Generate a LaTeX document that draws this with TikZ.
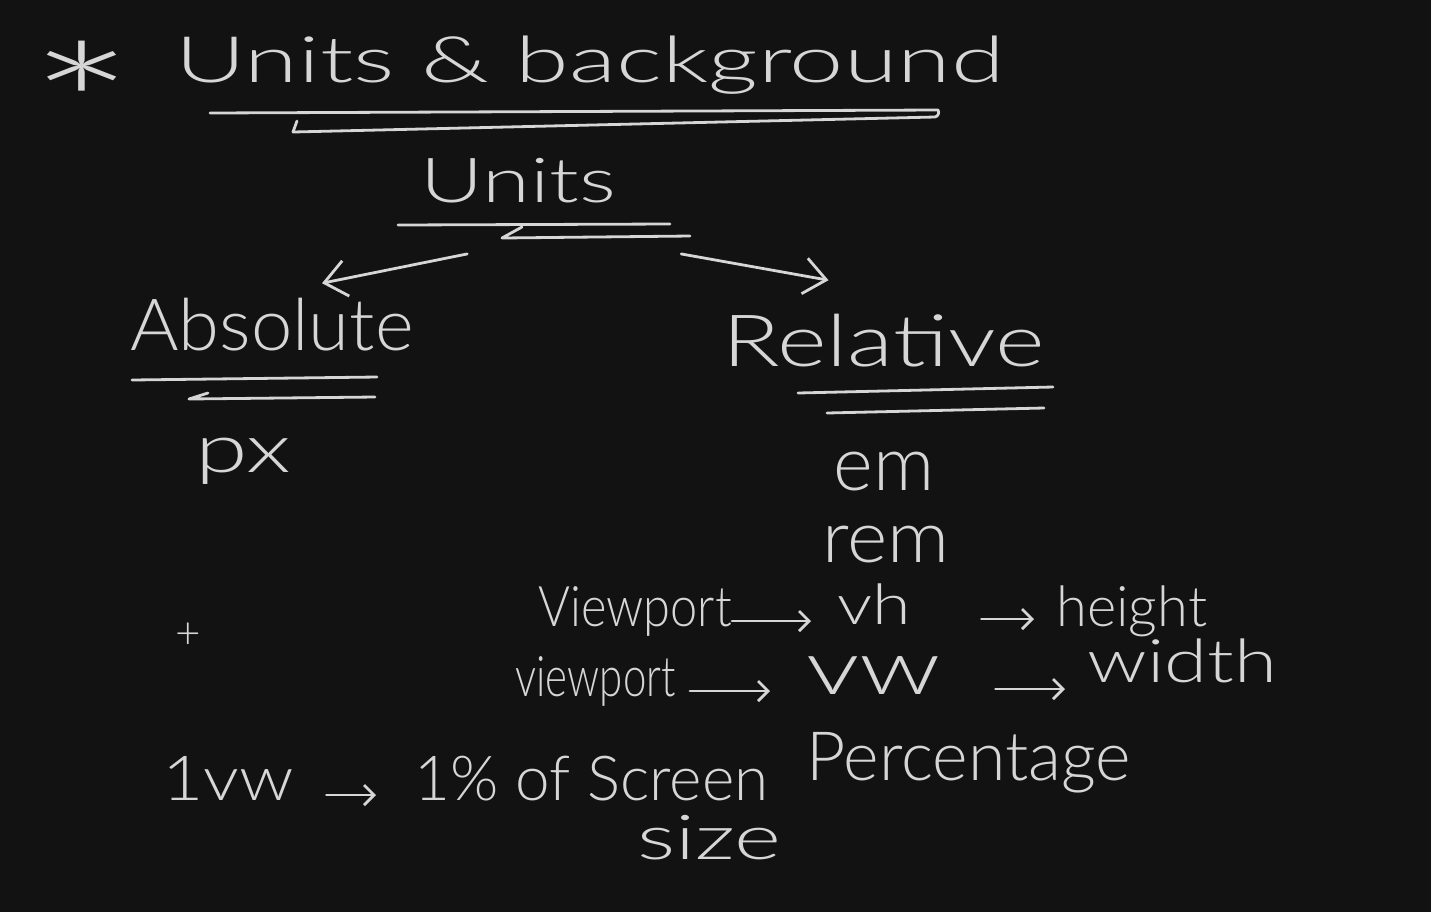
\documentclass[tikz,border=0pt]{standalone}
\usepackage{fontspec}
\setmainfont{Lato}[UprightFont=* Light]
\usepackage{graphicx}
\usetikzlibrary{arrows.meta}
\definecolor{board}{HTML}{121212}
\definecolor{chalk}{HTML}{D6D6D6}

\begin{document}
\begin{tikzpicture}[x=0.5pt, y=-0.5pt,
    word/.style={text=chalk, inner sep=0pt, anchor=base west},
    line/.style={draw=chalk, line width=1.4pt, line cap=round, line join=round},
    arrow/.style={line, -{Straight Barb[length=5pt, width=10pt]}},
    bigarrow/.style={line, -{Straight Barb[length=11pt, width=18pt]}},
]
\fill[board] (0,0) rectangle (1431,912);

% --- Title ---
\node[word, font=\fontsize{60}{60}\selectfont] (star) at (28,166) {\scalebox{2.1}[1.4]{*}};
\node[word, font=\fontsize{32}{32}\selectfont] (title) at (175,82)
    {\scalebox{1.52}[1]{Units \& background}};
\draw[line] (210,113) -- (938,110) to[bend left=60] (935,117) -- (293,132) -- (297,121);

% --- Units ---
\node[word, font=\fontsize{31}{31}\selectfont] (units) at (420,202) {\scalebox{1.4}[1]{Units}};
\draw[line] (398,225) -- (670,224);
\draw[line] (522,227) -- (502,238) -- (690,236);

% --- Absolute / Relative ---
\node[word, font=\fontsize{36}{36}\selectfont] (absolute) at (130,350) {\scalebox{1.03}[1]{Absolute}};
\node[word, font=\fontsize{36}{36}\selectfont] (relative) at (722,366) {\scalebox{1.32}[1]{Relative}};
\draw[line] (132,380) -- (377,377);
\draw[line] (208,393) -- (189,399) -- (375,397);
\draw[line] (798,393) -- (1053,387);
\draw[line] (827,413) -- (1044,408);

\draw[bigarrow] ([shift={(-51,51)}]units.south) -- ([shift={(50,-14)}]absolute.north);
\draw[bigarrow] ([shift={(163,51)}]units.south) -- ([shift={(-55,-33)}]relative.north);

% --- Absolute units ---
\node[word, font=\fontsize{34}{34}\selectfont] (px) at (195,472) {\scalebox{1.4}[1]{px}};

% --- Relative units ---
\node[word, font=\fontsize{38}{38}\selectfont] (em) at (833,490) {em};
\node[word, font=\fontsize{36}{36}\selectfont] (rem) at (822,562) {\scalebox{1.07}[1]{rem}};

\node[word, font=\fontsize{28}{28}\selectfont] (viewporth) at (538,626) {\scalebox{0.87}[1]{Viewport}};
\node[word, font=\fontsize{28}{28}\selectfont] (vh) at (837,624) {\scalebox{1.25}[1]{vh}};
\node[word, font=\fontsize{28}{28}\selectfont] (height) at (1056,626) {height};
\draw[arrow, shorten >=13pt] (viewporth.mid east) -- (viewporth.mid east -| vh.west);
\draw[arrow, shorten <=35pt, shorten >=11pt] (vh.mid east) -- (vh.mid east -| height.west);

\node[word, font=\fontsize{28}{28}\selectfont] (viewportw) at (515,696) {\scalebox{0.75}[1]{viewport}};
\node[word, font=\fontsize{38}{38}\selectfont] (vw) at (806,694) {\scalebox{1.4}[1]{vw}};
\node[word, font=\fontsize{30}{30}\selectfont] (width) at (1087,682) {\scalebox{1.3}[1]{width}};
\draw[arrow, shorten <=7pt, shorten >=18pt] (viewportw.mid east) -- (viewportw.mid east -| vw.west);
\draw[arrow, shorten <=27pt, shorten >=11pt] (vw.mid east) -- (vw.mid east -| width.west);

\node[word, font=\fontsize{34}{34}\selectfont] (percentage) at (806,780) {Percentage};

% --- Cursor ---
\node[text=chalk, inner sep=0pt, font=\fontsize{22}{22}\selectfont] (cursor) at (188,636) {+};

% --- 1vw note ---
\node[word, font=\fontsize{31}{31}\selectfont] (onevw) at (162,800) {\scalebox{1.15}[1]{1vw}};
\node[word, font=\fontsize{31}{31}\selectfont] (screen) at (414,800) {1\% of Screen};
\node[word, font=\fontsize{31}{31}\selectfont] (size) at (637,859) {\scalebox{1.45}[1]{size}};
\draw[arrow, shorten <=16pt, shorten >=19pt] (onevw.mid east) -- (onevw.mid east -| screen.west);
\end{tikzpicture}
\end{document}
